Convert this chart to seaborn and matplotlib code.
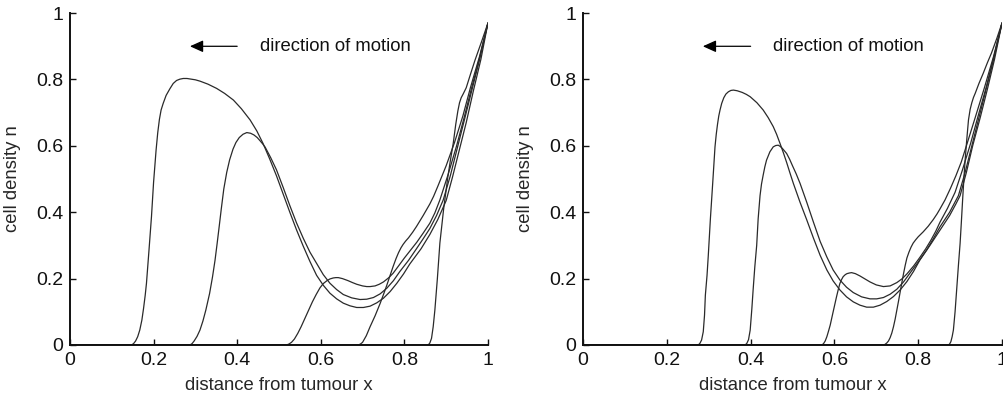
import matplotlib
matplotlib.use("Agg")
import matplotlib.pyplot as plt
import seaborn as sns
import pandas as pd

# ---------------- data ----------------
# Left panel
L1x = [0.0, 0.147, 0.152, 0.157, 0.162, 0.167, 0.172, 0.176, 0.18, 0.183, 0.189, 0.195, 0.2, 0.206, 0.21, 0.214,
       0.218, 0.223, 0.23, 0.239, 0.247, 0.255, 0.263, 0.271, 0.28, 0.29, 0.30, 0.311, 0.33, 0.351, 0.37, 0.391,
       0.41, 0.431, 0.447, 0.462, 0.478, 0.494, 0.51, 0.526, 0.542, 0.558, 0.574, 0.590, 0.606, 0.622, 0.638,
       0.654, 0.67, 0.686, 0.702, 0.718, 0.734, 0.750, 0.766, 0.782, 0.798, 0.813, 0.84, 0.861, 0.88, 0.90,
       0.915, 0.93, 0.948, 0.965, 0.983, 1.0]
L1y = [0.0, 0.0, 0.004, 0.012, 0.025, 0.045, 0.075, 0.11, 0.15, 0.186, 0.285, 0.387, 0.49, 0.587, 0.64, 0.68,
       0.708, 0.728, 0.752, 0.772, 0.788, 0.797, 0.801, 0.803, 0.803, 0.801, 0.799, 0.795, 0.786, 0.773, 0.758,
       0.738, 0.712, 0.678, 0.645, 0.607, 0.56, 0.51, 0.455, 0.40, 0.347, 0.298, 0.252, 0.21, 0.18, 0.156, 0.139,
       0.126, 0.118, 0.113, 0.113, 0.117, 0.127, 0.141, 0.161, 0.186, 0.214, 0.244, 0.29, 0.333, 0.378, 0.435,
       0.505, 0.58, 0.67, 0.765, 0.86, 0.97]

L2x = [0.0, 0.287, 0.292, 0.297, 0.304, 0.311, 0.318, 0.325, 0.334, 0.341, 0.347, 0.352, 0.357, 0.362, 0.368,
       0.375, 0.382, 0.39, 0.397, 0.405, 0.414, 0.423, 0.432, 0.44, 0.448, 0.455, 0.461, 0.467, 0.48, 0.494,
       0.51, 0.526, 0.542, 0.558, 0.574, 0.590, 0.606, 0.622, 0.638, 0.654, 0.674, 0.694, 0.71, 0.726, 0.742,
       0.758, 0.774, 0.789, 0.81, 0.829, 0.845, 0.861, 0.877, 0.893, 0.91, 0.928, 0.945, 0.962, 0.98, 1.0]
L2y = [0.0, 0.0, 0.004, 0.012, 0.026, 0.045, 0.072, 0.105, 0.155, 0.205, 0.255, 0.305, 0.357, 0.41, 0.47,
       0.52, 0.558, 0.59, 0.61, 0.625, 0.635, 0.64, 0.638, 0.633, 0.625, 0.615, 0.606, 0.596, 0.565, 0.528,
       0.475, 0.42, 0.368, 0.322, 0.28, 0.246, 0.212, 0.186, 0.167, 0.152, 0.142, 0.137, 0.138, 0.143, 0.154,
       0.171, 0.194, 0.221, 0.255, 0.29, 0.32, 0.351, 0.39, 0.437, 0.51, 0.60, 0.685, 0.77, 0.86, 0.97]

L3x = [0.0, 0.518, 0.524, 0.53, 0.537, 0.545, 0.553, 0.562, 0.571, 0.58, 0.589, 0.598, 0.606, 0.615, 0.622,
       0.63, 0.636, 0.642, 0.652, 0.665, 0.676, 0.686, 0.7, 0.71, 0.718, 0.73, 0.74, 0.75, 0.762, 0.773, 0.786,
       0.80, 0.815, 0.83, 0.845, 0.861, 0.873, 0.885, 0.905, 0.925, 0.943, 0.96, 0.98, 1.0]
L3y = [0.0, 0.0, 0.003, 0.008, 0.018, 0.035, 0.055, 0.08, 0.105, 0.13, 0.152, 0.172, 0.185, 0.194, 0.199,
       0.202, 0.203, 0.203, 0.2, 0.194, 0.188, 0.183, 0.178, 0.176, 0.176, 0.178, 0.183, 0.19, 0.202, 0.216, 0.238,
       0.262, 0.286, 0.31, 0.337, 0.367, 0.398, 0.437, 0.515, 0.6, 0.685, 0.77, 0.865, 0.97]

L4x = [0.0, 0.69, 0.695, 0.70, 0.709, 0.718, 0.73, 0.742, 0.75, 0.758, 0.766, 0.773, 0.78, 0.786, 0.792, 0.797,
       0.803, 0.81, 0.82, 0.829, 0.845, 0.861, 0.87, 0.88, 0.9, 0.92, 0.94, 0.958, 0.98, 1.0]
L4y = [0.0, 0.0, 0.003, 0.008, 0.028, 0.055, 0.088, 0.125, 0.152, 0.18, 0.21, 0.236, 0.26, 0.278, 0.293, 0.303,
       0.313, 0.323, 0.34, 0.357, 0.39, 0.425, 0.448, 0.478, 0.54, 0.61, 0.69, 0.775, 0.87, 0.97]

L5x = [0.0, 0.857, 0.861, 0.865, 0.869, 0.873, 0.879, 0.885, 0.894, 0.904, 0.91, 0.917, 0.923, 0.928, 0.932,
       0.936, 0.941, 0.948, 0.958, 0.969, 0.985, 1.0]
L5y = [0.0, 0.0, 0.006, 0.02, 0.055, 0.105, 0.2, 0.307, 0.41, 0.506, 0.555, 0.608, 0.665, 0.705, 0.73,
       0.745, 0.757, 0.775, 0.815, 0.858, 0.915, 0.97]

# Right panel
R1x = [0.0, 0.275, 0.279, 0.283, 0.287, 0.29, 0.292, 0.296, 0.299, 0.304, 0.3095, 0.315, 0.318, 0.321, 0.324,
       0.327, 0.331, 0.336, 0.341, 0.347, 0.353, 0.359, 0.368, 0.38, 0.39, 0.399, 0.415, 0.43, 0.442, 0.454,
       0.462, 0.470, 0.478, 0.486, 0.494, 0.502, 0.518, 0.534, 0.550, 0.566, 0.582, 0.597, 0.613, 0.629, 0.645,
       0.661, 0.677, 0.693, 0.709, 0.725, 0.741, 0.757, 0.773, 0.789, 0.804, 0.828, 0.852, 0.875, 0.89, 0.90,
       0.915, 0.93, 0.948, 0.965, 0.982, 1.0]
R1y = [0.0, 0.0, 0.005, 0.015, 0.04, 0.09, 0.15, 0.21, 0.27, 0.38, 0.487, 0.597, 0.635, 0.665, 0.69,
       0.708, 0.728, 0.745, 0.756, 0.763, 0.767, 0.768, 0.766, 0.761, 0.755, 0.748, 0.73, 0.708, 0.685, 0.658,
       0.635, 0.608, 0.58, 0.55, 0.518, 0.487, 0.43, 0.377, 0.322, 0.27, 0.226, 0.193, 0.166, 0.145, 0.13,
       0.12, 0.114, 0.114, 0.12, 0.131, 0.146, 0.166, 0.191, 0.222, 0.256, 0.3, 0.346, 0.39, 0.425, 0.45,
       0.52, 0.6, 0.685, 0.77, 0.86, 0.97]

R2x = [0.0, 0.387, 0.391, 0.395, 0.399, 0.403, 0.406, 0.41, 0.4145, 0.418, 0.4225, 0.426, 0.43, 0.434, 0.438,
       0.446, 0.454, 0.46, 0.466, 0.471, 0.476, 0.486, 0.493, 0.50, 0.509, 0.518, 0.534, 0.550, 0.566, 0.582,
       0.597, 0.613, 0.629, 0.645, 0.665, 0.685, 0.701, 0.717, 0.733, 0.749, 0.765, 0.780, 0.80, 0.820, 0.836,
       0.852, 0.875, 0.896, 0.912, 0.928, 0.945, 0.962, 0.98, 1.0]
R2y = [0.0, 0.0, 0.005, 0.016, 0.045, 0.11, 0.166, 0.235, 0.3, 0.38, 0.45, 0.485, 0.512, 0.537, 0.557,
       0.582, 0.597, 0.601, 0.602, 0.598, 0.592, 0.577, 0.56, 0.54, 0.515, 0.487, 0.43, 0.37, 0.312, 0.265,
       0.226, 0.196, 0.174, 0.158, 0.145, 0.139, 0.139, 0.143, 0.153, 0.168, 0.19, 0.216, 0.25, 0.286, 0.32,
       0.356, 0.4, 0.45, 0.52, 0.6, 0.685, 0.77, 0.86, 0.97]

R3x = [0.0, 0.570, 0.574, 0.578, 0.582, 0.586, 0.59, 0.597, 0.605, 0.609, 0.613, 0.617, 0.621, 0.626, 0.63,
       0.636, 0.641, 0.65, 0.661, 0.673, 0.685, 0.7, 0.717, 0.733, 0.749, 0.761, 0.773, 0.789, 0.804, 0.818,
       0.83, 0.842, 0.852, 0.87, 0.888, 0.905, 0.925, 0.943, 0.962, 0.98, 1.0]
R3y = [0.0, 0.0, 0.004, 0.012, 0.025, 0.042, 0.06, 0.1, 0.145, 0.166, 0.185, 0.197, 0.206, 0.212, 0.215,
       0.217, 0.218, 0.215, 0.208, 0.199, 0.19, 0.181, 0.176, 0.178, 0.188, 0.199, 0.214, 0.238, 0.264, 0.29,
       0.315, 0.343, 0.37, 0.412, 0.46, 0.525, 0.607, 0.69, 0.775, 0.865, 0.97]

R4x = [0.0, 0.717, 0.721, 0.725, 0.729, 0.733, 0.737, 0.741, 0.745, 0.749, 0.753, 0.757, 0.761, 0.765, 0.769,
       0.773, 0.778, 0.783, 0.788, 0.794, 0.80, 0.812, 0.824, 0.836, 0.845, 0.852, 0.864, 0.877, 0.89, 0.903,
       0.915, 0.936, 0.958, 0.98, 1.0]
R4y = [0.0, 0.0, 0.002, 0.006, 0.012, 0.022, 0.036, 0.055, 0.078, 0.105, 0.132, 0.16, 0.188, 0.215, 0.24,
       0.262, 0.28, 0.295, 0.307, 0.317, 0.326, 0.341, 0.358, 0.378, 0.395, 0.41, 0.437, 0.472, 0.51, 0.552,
       0.6, 0.685, 0.775, 0.87, 0.97]

R5x = [0.0, 0.872, 0.875, 0.878, 0.881, 0.884, 0.888, 0.892, 0.896, 0.900, 0.903, 0.906, 0.909, 0.912, 0.916,
       0.920, 0.924, 0.928, 0.932, 0.936, 0.945, 0.955, 0.965, 0.975, 0.988, 1.0]
R5y = [0.0, 0.0, 0.003, 0.01, 0.025, 0.045, 0.1, 0.17, 0.24, 0.306, 0.37, 0.437, 0.5, 0.557, 0.62,
       0.678, 0.71, 0.73, 0.746, 0.758, 0.788, 0.818, 0.85, 0.88, 0.925, 0.97]

ticks = [0, 0.2, 0.4, 0.6, 0.8, 1]
tick_labels = ["0", "0.2", "0.4", "0.6", "0.8", "1"]
xlabel = "distance from tumour x"
ylabel = "cell density n"
annot_text = "direction of motion"
# arrow (data coords): tail x, head x, y ; text x
left_arrow = (0.40, 0.287, 0.9, 0.455)
right_arrow = (0.40, 0.286, 0.9, 0.453)

panels = [
    ([(L1x, L1y), (L2x, L2y), (L3x, L3y), (L4x, L4y), (L5x, L5y)], left_arrow),
    ([(R1x, R1y), (R2x, R2y), (R3x, R3y), (R4x, R4y), (R5x, R5y)], right_arrow),
]

# ---------------- drawing ----------------
sns.set_style("ticks")
plt.rcParams["font.family"] = ["Liberation Sans", "DejaVu Sans"]

fig = plt.figure(figsize=(10.04, 3.97), dpi=100)
axes_rects = [
    [0.0697, 0.131, 0.4163, 0.836],
    [0.5807, 0.131, 0.4173, 0.836],
]
line_color = "#2a2a2a"
FS_TICK = 14
FS_TEXT = 13.3

for rect, (curves, arrow) in zip(axes_rects, panels):
    ax = fig.add_axes(rect)
    for xs, ys in curves:
        df = pd.DataFrame({"x": xs, "y": ys})
        sns.lineplot(data=df, x="x", y="y", ax=ax, color=line_color, linewidth=0.9,
                     sort=False, estimator=None)
    ax.set_xlim(0, 1)
    ax.set_ylim(0, 1)
    ax.set_xticks(ticks)
    ax.set_yticks(ticks)
    ax.set_xticklabels(tick_labels, fontsize=FS_TICK)
    ax.set_yticklabels(tick_labels, fontsize=FS_TICK)
    ax.set_xlabel(xlabel, fontsize=FS_TEXT, labelpad=6)
    ax.set_ylabel(ylabel, fontsize=FS_TEXT, labelpad=11)
    ax.tick_params(direction="in", length=4, width=1.0, colors="#111111", pad=5)
    for s in ["top", "right"]:
        ax.spines[s].set_visible(False)
    for s in ["left", "bottom"]:
        ax.spines[s].set_linewidth(1.4)
        ax.spines[s].set_color("#111111")
    tail, head, ay, tx = arrow
    ax.annotate("", xy=(head, ay), xytext=(tail, ay),
                arrowprops=dict(arrowstyle="-|>,head_length=0.8,head_width=0.36",
                                mutation_scale=10, color="black", lw=0.9,
                                shrinkA=0, shrinkB=0))
    ax.text(tx, ay, annot_text, fontsize=FS_TEXT, va="center", ha="left", color="#111111")

fig.savefig("out.png", dpi=100)
